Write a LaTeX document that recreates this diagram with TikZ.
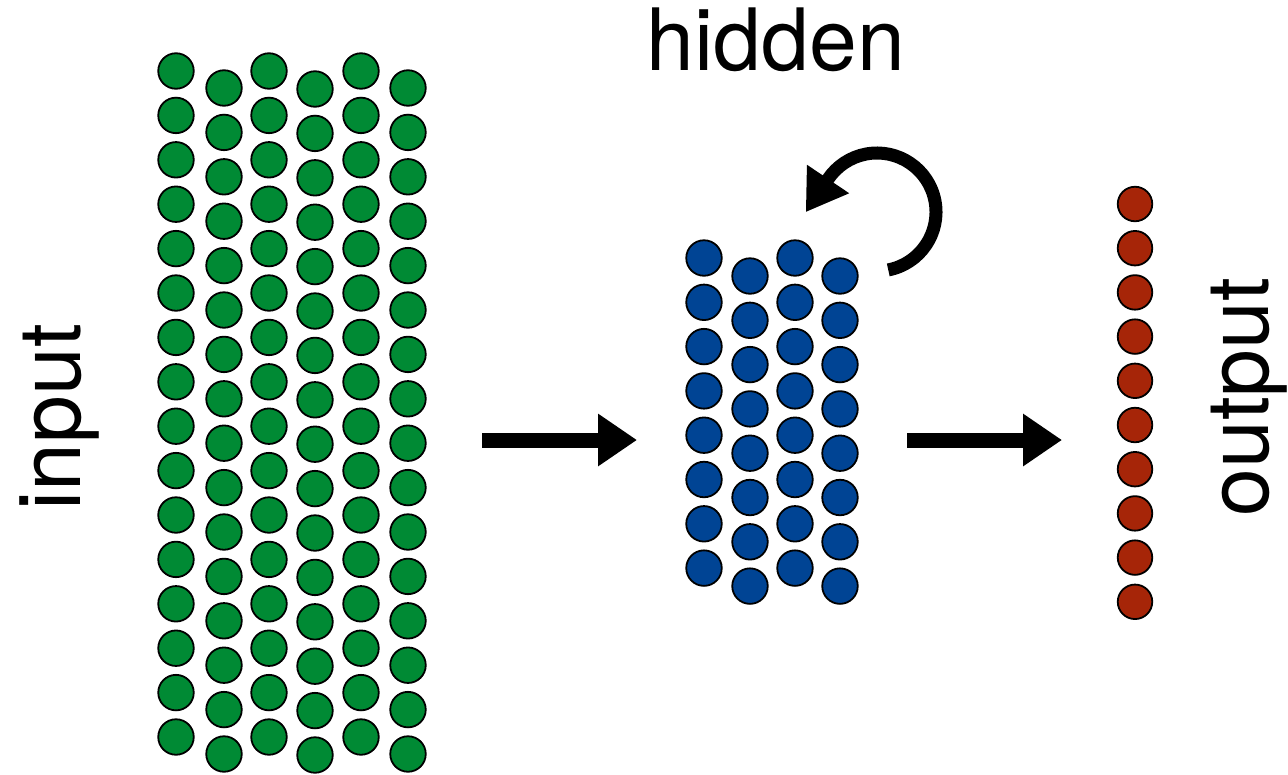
\documentclass[tikz,border=0pt]{standalone}
\usepackage{fontspec}
\setmainfont{TeX Gyre Heros}
\usetikzlibrary{arrows.meta}
\definecolor{ggreen}{RGB}{0,138,52}
\definecolor{gblue}{RGB}{0,68,148}
\definecolor{gred}{RGB}{166,37,8}
\begin{document}
\begin{tikzpicture}[x=1pt,y=-1pt,
  neuron/.style={circle,draw=black,line width=1.8pt,inner sep=0pt,minimum size=35.5pt},
  innode/.style={neuron,fill=ggreen},
  hidnode/.style={neuron,fill=gblue},
  outnode/.style={neuron,fill=gred,minimum size=34.5pt},
  txt/.style={font=\fontsize{86}{90}\selectfont,inner sep=0pt},
  flow/.style={line width=15pt,-{Triangle[length=39pt,width=50pt]}},
  recur/.style={line width=13pt,-{Triangle[length=40pt,width=48pt]}}]
\useasboundingbox (0,0) rectangle (1288,774);
\fill[white] (0,0) rectangle (1288,774);
% input layer
\foreach \c/\x/\yo in {0/176/71,1/224/88,2/269/71,3/315/89,4/361/71,5/408/88}{
  \foreach \r in {0,...,15}{
    \node[innode] (g-\c-\r) at (\x,\yo+\r*44.4) {};
  }
}
% hidden layer
\foreach \c/\x/\yo in {0/704/258,1/750/276,2/795/258,3/840/276}{
  \foreach \r in {0,...,7}{
    \node[hidnode] (h-\c-\r) at (\x,\yo+\r*44.3) {};
  }
}
% output layer
\foreach \r in {0,...,9}{
  \node[outnode] (o-\r) at (1135,204+\r*44.2) {};
}
% labels
\node[txt,anchor=base] (hid) at (776,70) {hidden};
\node[txt,rotate=90,anchor=base] (inp) at (80,417) {input};
\node[txt,rotate=90,anchor=base] (outl) at (1268,397) {output};
% arrows
\coordinate (a1s) at (482,440);
\coordinate (a1e) at (637,440);
\coordinate (a2s) at (907,440);
\coordinate (a2e) at (1062,440);
\draw[flow] (a1s) -- (a1e);
\draw[flow] (a2s) -- (a2e);
% recurrent loop
\coordinate (lc) at (877,212);
\draw[recur] (lc) ++(-79:59pt) arc[start angle=-79,end angle=146,radius=59pt] -- ++(236:40pt);
\end{tikzpicture}
\end{document}
